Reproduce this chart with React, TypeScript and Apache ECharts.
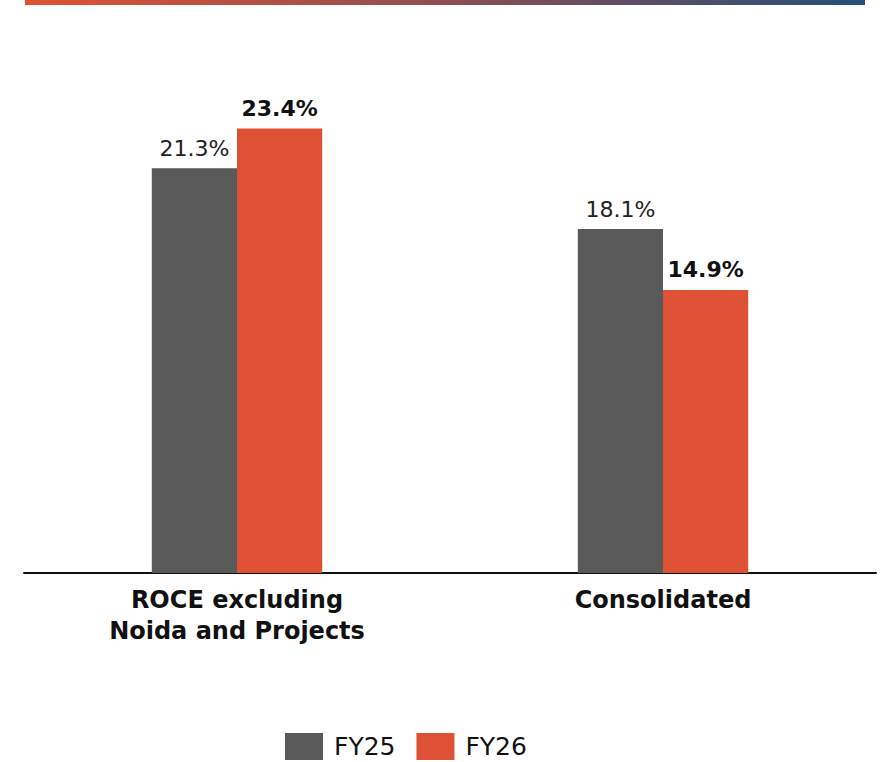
import React, { useEffect, useRef } from "react";
import * as echarts from "echarts";

const categories = ["ROCE excluding\nNoida and Projects", "Consolidated"];
const fy25 = [21.3, 18.1];
const fy26 = [23.4, 14.9];
const seriesNames = ["FY25", "FY26"];

const FONT = "'DejaVu Sans', sans-serif";

export default function App() {
  const ref = useRef<HTMLDivElement>(null);
  useEffect(() => {
    document.body.style.margin = "0";
    const chart = echarts.init(ref.current!, null, { renderer: "svg" });
    chart.setOption({
      animation: false,
      backgroundColor: "#ffffff",
      textStyle: { fontFamily: FONT },
      graphic: [
        {
          type: "rect",
          shape: { x: 25, y: 0, width: 840, height: 5 },
          style: {
            fill: new echarts.graphic.LinearGradient(0, 0, 1, 0, [
              { offset: 0, color: "#E05233" },
              { offset: 0.5, color: "#8E4E52" },
              { offset: 1, color: "#234F79" },
            ]),
          },
        },
      ],
      grid: { left: 24, right: 8, top: 98, bottom: 189, containLabel: false },
      legend: {
        data: seriesNames,
        top: 733,
        left: 285,
        padding: 0,
        itemWidth: 38,
        itemHeight: 27,
        itemGap: 21,
        icon: "rect",
        textStyle: { fontSize: 25, color: "#111", fontFamily: FONT, padding: [0, 0, 0, 6] },
      },
      xAxis: {
        type: "category",
        data: categories,
        axisLine: { show: true, lineStyle: { color: "#111", width: 2 } },
        axisTick: { show: false },
        axisLabel: {
          margin: 11,
          fontSize: 24,
          fontWeight: "bold",
          color: "#111",
          lineHeight: 31,
          fontFamily: FONT,
        },
      },
      yAxis: {
        type: "value",
        min: 0,
        max: 25,
        show: false,
        splitLine: { show: false },
      },
      series: [
        {
          name: "FY25",
          type: "bar",
          data: fy25,
          barGap: "0%",
          barCategoryGap: "60%",
          itemStyle: { color: "#595959" },
          label: {
            show: true,
            position: "top",
            distance: 9,
            formatter: (p: any) => p.value.toFixed(1) + "%",
            fontSize: 22,
            color: "#222",
            fontWeight: "normal",
            fontFamily: FONT,
          },
        },
        {
          name: "FY26",
          type: "bar",
          data: fy26,
          itemStyle: { color: "#DE5134" },
          label: {
            show: true,
            position: "top",
            distance: 9,
            formatter: (p: any) => p.value.toFixed(1) + "%",
            fontSize: 22,
            color: "#111",
            fontWeight: "bold",
            fontFamily: FONT,
          },
        },
      ],
    });
    return () => chart.dispose();
  }, []);
  return <div ref={ref} style={{ width: 884, height: 762 }} />;
}
